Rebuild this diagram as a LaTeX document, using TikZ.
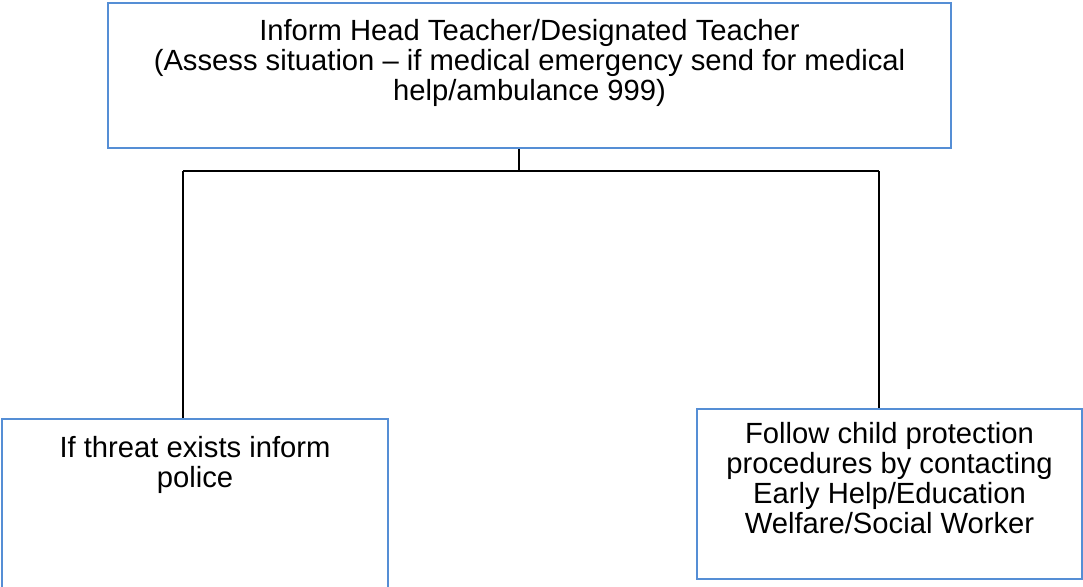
\documentclass[tikz,border=0pt]{standalone}
\usepackage{fontspec}
\setmainfont{Liberation Sans}
\usetikzlibrary{positioning}
\definecolor{boxblue}{RGB}{85,142,213}
\tikzset{
	box/.style={draw=boxblue, line width=1.1pt, rectangle, inner sep=0pt},
	txt/.style={align=center, inner sep=0pt, font=\fontsize{14.6}{15}\selectfont},
	wire/.style={draw=black, line width=1pt}
}
\begin{document}
\begin{tikzpicture}[x=0.5pt,y=-0.5pt]
	\useasboundingbox (0,0) rectangle (1083,587);
	\clip (0,0) rectangle (1083,587);
	\node[box, minimum width=421.5pt, minimum height=72.5pt] (head) at (529.5,75.3) {};
	\node[txt, below=8.5pt of head.north] (headText) {Inform Head Teacher/Designated Teacher\\(Assess situation – if medical emergency send for medical\\help/ambulance 999)};
	\node[box, minimum width=193pt, minimum height=90pt] (police) at (195,509) {};
	\node[txt, below=9pt of police.north] (policeText) {If threat exists inform\\police};
	\node[box, minimum width=192.5pt, minimum height=85pt] (cp) at (889.5,494) {};
	\node[txt, below=7pt of cp.north] (cpText) {Follow child protection\\procedures by contacting\\Early Help/Education\\Welfare/Social Worker};
	\coordinate (split) at (519,171.5);
	\coordinate (leftEnd) at (183,171.5);
	\coordinate (rightEnd) at (879,171.5);
	\draw[wire] (head.south -| split) -- (split);
	\draw[wire] (leftEnd) -- (rightEnd);
	\draw[wire] (leftEnd) -- (leftEnd |- police.north);
	\draw[wire] (rightEnd) -- (rightEnd |- cp.north);
\end{tikzpicture}
\end{document}
